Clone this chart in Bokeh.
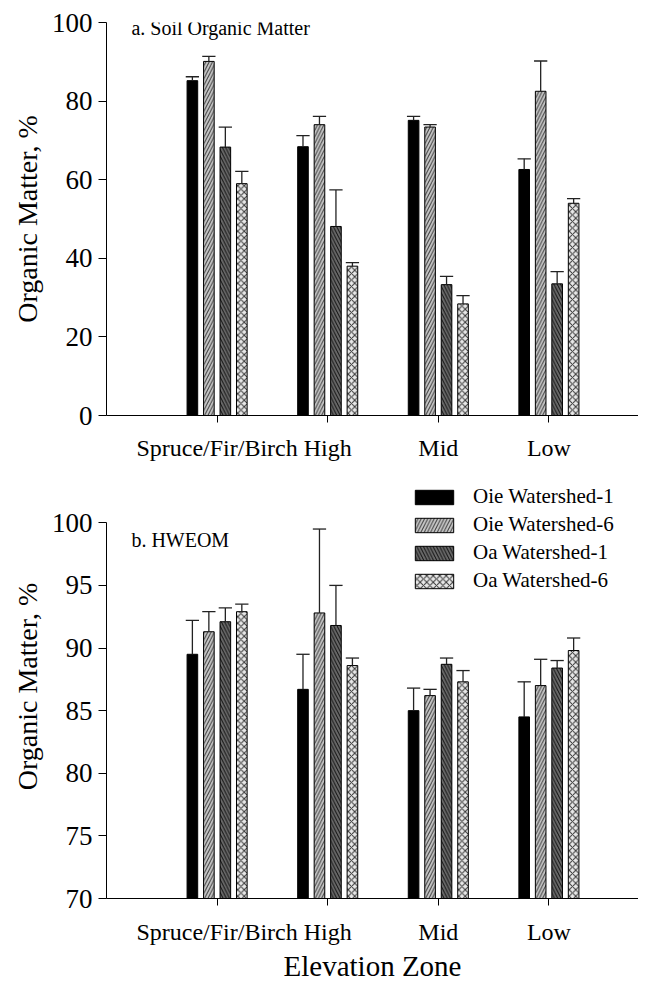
from bokeh.plotting import figure
from bokeh.layouts import column
from bokeh.models import FixedTicker, Legend, LegendItem, Label, Range1d
from bokeh.embed import file_html
from bokeh.resources import INLINE

# ---------------- data ----------------
zones = ["Spruce/Fir/Birch", "High", "Mid", "Low"]
series = ["Oie Watershed-1", "Oie Watershed-6", "Oa Watershed-1", "Oa Watershed-6"]

# a. Soil Organic Matter (%), mean and standard error
som_oie_w1 = [85.2, 68.4, 75.1, 62.6]
som_oie_w6 = [90.1, 74.0, 73.4, 82.5]
som_oa_w1 = [68.3, 48.1, 33.3, 33.5]
som_oa_w6 = [59.0, 38.0, 28.4, 54.0]
som_err_oie_w1 = [1.0, 2.8, 1.0, 2.7]
som_err_oie_w6 = [1.3, 2.1, 0.6, 7.7]
som_err_oa_w1 = [5.1, 9.3, 2.1, 3.1]
som_err_oa_w6 = [3.1, 0.9, 2.1, 1.2]

# b. HWEOM (%), mean and standard error
hw_oie_w1 = [89.5, 86.7, 85.0, 84.5]
hw_oie_w6 = [91.3, 92.8, 86.2, 87.0]
hw_oa_w1 = [92.1, 91.8, 88.7, 88.4]
hw_oa_w6 = [92.9, 88.6, 87.3, 89.8]
hw_err_oie_w1 = [2.7, 2.8, 1.8, 2.8]
hw_err_oie_w6 = [1.6, 6.7, 0.5, 2.1]
hw_err_oa_w1 = [1.1, 3.2, 0.5, 0.6]
hw_err_oa_w6 = [0.6, 0.6, 0.9, 1.0]

som_ticks = [0, 20, 40, 60, 80, 100]
hw_ticks = [70, 75, 80, 85, 90, 95, 100]

# ---------------- style ----------------
FONT = "Liberation Serif"
OFFSETS = [-1.5, -0.5, 0.5, 1.5]
PITCH = 0.149
BAR_W = 0.096
CAP_W = 0.12
X_END = 4.81
STYLES = [
    dict(fill_color="#000000", hatch_pattern=None),
    dict(fill_color="#c8c8c8", hatch_pattern="right_diagonal_line", hatch_color="#3a3a3a", hatch_scale=6.5, hatch_weight=1),
    dict(fill_color="#6a6a6a", hatch_pattern="left_diagonal_line", hatch_color="#111111", hatch_scale=6.5, hatch_weight=1),
    dict(fill_color="#e8e8e8", hatch_pattern="diagonal_cross", hatch_color="#333333", hatch_scale=6.5, hatch_weight=1),
]
cats = list(range(1, len(zones) + 1))


def make_panel(height, ymin, ymax, ytop, yticks, vals, errs, title, title_y, bt, bb, xstand):
    p = figure(width=638, height=height, x_range=Range1d(0, X_END), y_range=Range1d(ymin, ytop),
               output_backend="svg", toolbar_location=None,
               min_border_left=106, min_border_right=0, min_border_top=bt, min_border_bottom=bb)
    p.outline_line_color = None
    p.xgrid.visible = False
    p.ygrid.visible = False
    p.background_fill_color = "white"

    renderers = []
    for k in range(4):
        xs = [c + OFFSETS[k] * PITCH for c in cats]
        st = {kk: v for kk, v in STYLES[k].items() if v is not None}
        r = p.vbar(x=xs, top=vals[k], bottom=ymin, width=BAR_W,
                   line_color="black", line_width=1, **st)
        renderers.append(r)
        tops = [v + e for v, e in zip(vals[k], errs[k])]
        p.segment(x0=xs, y0=vals[k], x1=xs, y1=tops, line_color="#222222", line_width=1.3)
        p.segment(x0=[x - CAP_W / 2 for x in xs], y0=tops, x1=[x + CAP_W / 2 for x in xs], y1=tops,
                  line_color="#222222", line_width=1.3)

    # y axis
    ya = p.yaxis[0]
    ya.ticker = FixedTicker(ticks=yticks)
    ya.bounds = (ymin, ymax)
    ya.minor_tick_line_color = None
    ya.major_tick_in = 0
    ya.major_tick_out = 8
    ya.major_label_standoff = 6
    ya.major_label_text_font = FONT
    ya.major_label_text_font_size = "27px"
    ya.major_label_text_color = "black"
    ya.axis_label = "Organic Matter, %"
    ya.axis_label_text_font = FONT
    ya.axis_label_text_font_size = "28px"
    ya.axis_label_text_font_style = "normal"
    ya.axis_label_text_color = "black"
    ya.axis_label_standoff = 6
    ya.axis_line_color = "black"
    ya.major_tick_line_color = "black"

    # x axis
    xa = p.xaxis[0]
    xa.ticker = FixedTicker(ticks=cats)
    xa.major_label_overrides = {c: z for c, z in zip(cats, zones)}
    xa.minor_tick_line_color = None
    xa.major_tick_in = 0
    xa.major_tick_out = 7
    xa.major_label_standoff = xstand
    xa.major_label_text_font = FONT
    xa.major_label_text_font_size = "24px"
    xa.major_label_text_color = "black"
    xa.axis_line_color = "black"
    xa.major_tick_line_color = "black"

    p.add_layout(Label(x=0.225, y=title_y, text=title, text_font=FONT, text_font_size="20px",
                       text_color="black", text_baseline="alphabetic", text_align="left"))
    return p, renderers


p1, _ = make_panel(470, 0, 100, 100, som_ticks,
                   [som_oie_w1, som_oie_w6, som_oa_w1, som_oa_w6],
                   [som_err_oie_w1, som_err_oie_w6, som_err_oa_w1, som_err_oa_w6],
                   "a. Soil Organic Matter", 98.7, 22, 55, 12)

p2, rs = make_panel(514, 70, 100, 103.855, hw_ticks,
                    [hw_oie_w1, hw_oie_w6, hw_oa_w1, hw_oa_w6],
                    [hw_err_oie_w1, hw_err_oie_w6, hw_err_oa_w1, hw_err_oa_w6],
                    "b. HWEOM", 98.64, 4, 82, 13)

xa2 = p2.xaxis[0]
xa2.axis_label = "Elevation Zone"
xa2.axis_label_text_font = FONT
xa2.axis_label_text_font_size = "29px"
xa2.axis_label_text_font_style = "normal"
xa2.axis_label_text_color = "black"
xa2.axis_label_standoff = 2

legend = Legend(items=[LegendItem(label=s, renderers=[r]) for s, r in zip(series, rs)],
                location=(304, 305), padding=0, margin=0, spacing=3,
                glyph_width=48, glyph_height=18, label_standoff=15,
                label_text_font=FONT, label_text_font_size="21px", label_text_color="black",
                label_height=20, border_line_alpha=0, background_fill_alpha=0)
p2.add_layout(legend)

layout = column(p1, p2, spacing=0)
open("out.html", "w").write(file_html(layout, INLINE))
